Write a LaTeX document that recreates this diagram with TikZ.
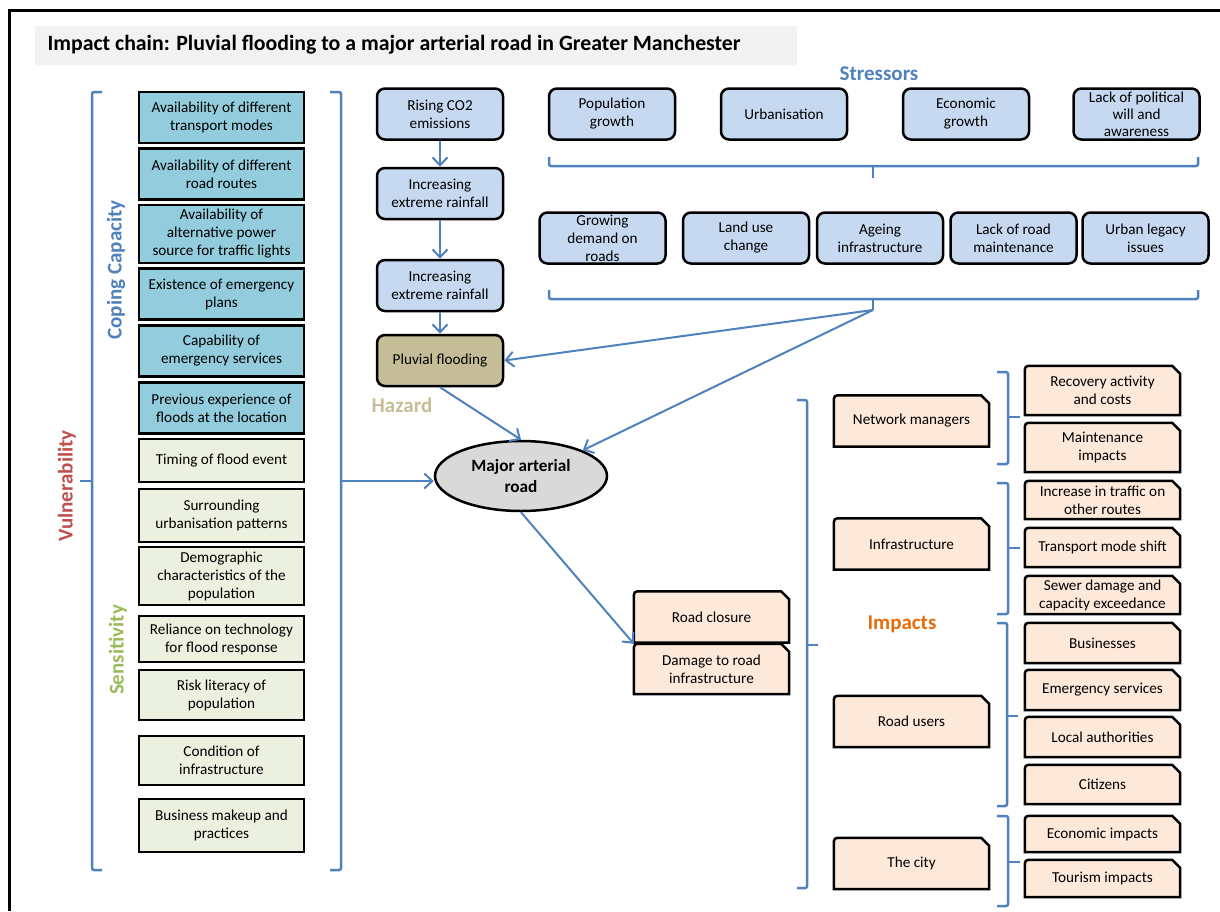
\documentclass[tikz,border=0pt]{standalone}
\usepackage{fontspec}
\setmainfont{Carlito}
\usetikzlibrary{arrows.meta,backgrounds,shapes.geometric}
\definecolor{copefill}{HTML}{93CDDD}
\definecolor{sensfill}{HTML}{EBF1DE}
\definecolor{strfill}{HTML}{C6D9F1}
\definecolor{hazfill}{HTML}{C4BD97}
\definecolor{roadfill}{HTML}{D9D9D9}
\definecolor{impfill}{HTML}{FDE9D9}
\definecolor{lineblue}{HTML}{4F81BD}
\definecolor{vulred}{HTML}{C0504D}
\definecolor{sensgreen}{HTML}{9BBB59}
\definecolor{imporange}{HTML}{E46C0A}
\definecolor{titlegray}{HTML}{F2F2F2}
\newcommand{\bodyfont}{\fontsize{15.2}{18}\selectfont}
\newcommand{\labfont}{\fontsize{21}{24}\selectfont\bfseries}
\newcommand{\cw}{165}
\newcommand{\iw}{155}

\begin{document}
\begin{tikzpicture}[x=1pt,y=-1pt,
    cope/.style={draw, rectangle, line width=2.5pt, fill=copefill, minimum width=\cw, minimum height=51, inner sep=1pt, align=center, font=\bodyfont},
    sens/.style={cope, fill=sensfill},
    stress/.style={draw, rounded corners=8pt, line width=2.5pt, fill=strfill, minimum width=126, minimum height=51, inner sep=0pt, align=center, font=\bodyfont},
    imp/.style={rectangle, minimum width=\iw, minimum height=51, inner sep=0pt, align=center, font=\bodyfont},
    impline/.style={draw, line width=2.5pt, fill=impfill},
    flow/.style={draw=lineblue, line width=2pt, -{Straight Barb[length=8pt,width=15pt]}},
    brace/.style={draw=lineblue, line width=2.5pt, rounded corners=2pt}]
    \useasboundingbox (0,0) rectangle (1220,911);

    % Frame and title
    \draw[line width=3pt] (9,911) -- (9,10) -- (1220,10);
    \fill[titlegray] (35,26) rectangle (797,65);
    \node[anchor=west, font=\fontsize{21.8}{25}\selectfont\bfseries] (title) at (44,45) {Impact chain: Pluvial flooding to a major arterial road in Greater Manchester};

    % Coping capacity
    \node[cope] (cope-1) at (221.5,117.5) {Availability of different\\transport modes};
    \node[cope] (cope-2) at (221.5,174) {Availability of different\\road routes};
    \node[cope, minimum height=58] (cope-3) at (221.5,234) {Availability of\\alternative power\\source for traffic lights};
    \node[cope] (cope-4) at (221.5,294) {Existence of emergency\\plans};
    \node[cope] (cope-5) at (221.5,351) {Capability of\\emergency services};
    \node[cope] (cope-6) at (221.5,408) {Previous experience of\\floods at the location};

    % Sensitivity
    \node[sens, minimum height=43] (sens-1) at (221.5,460.5) {Timing of flood event};
    \node[sens, minimum height=53] (sens-2) at (221.5,515.5) {Surrounding\\urbanisation patterns};
    \node[sens, minimum height=58] (sens-3) at (221.5,576) {Demographic\\characteristics of the\\population};
    \node[sens, minimum height=46] (sens-4) at (221.5,639) {Reliance on technology\\for flood response};
    \node[sens, minimum height=50] (sens-5) at (221.5,695) {Risk literacy of\\population};
    \node[sens, minimum height=49] (sens-6) at (221.5,760.5) {Condition of\\infrastructure};
    \node[sens, minimum height=53] (sens-7) at (221.5,825.5) {Business makeup and\\practices};

    \draw[brace] (102,92) -- (92,92) -- (92,870) -- (102,870);
    \draw[brace] (92,481) -- (80,481);
    \draw[brace] (330,92) -- (341,92) -- (341,870) -- (330,870);
    \coordinate (vul-out) at (341,481);

    \node[rotate=90, font=\labfont, text=vulred] (vul-lab) at (67,486) {Vulnerability};
    \node[rotate=90, font=\labfont, text=lineblue] (cope-lab) at (116,270) {Coping Capacity};
    \node[rotate=90, font=\labfont, text=sensgreen] (sens-lab) at (118,650) {Sensitivity};

    % Hazard chain
    \node[stress] (haz-1) at (440,114) {Rising CO2\\emissions};
    \node[stress] (haz-2) at (440,193.5) {Increasing\\extreme rainfall};
    \node[stress] (haz-3) at (440,285.5) {Increasing\\extreme rainfall};
    \node[stress, fill=hazfill] (flood) at (440,360.5) {Pluvial flooding};
    \node[font=\labfont, text=hazfill] (haz-lab) at (402,405) {Hazard};

    % Stressors
    \node[font=\labfont, text=lineblue] (str-lab) at (879,74) {Stressors};
    \node[stress] (str-1) at (612,114) {Population\\growth};
    \node[stress] (str-2) at (784,114) {Urbanisation};
    \node[stress] (str-3) at (966,114) {Economic\\growth};
    \node[stress, font=\fontsize{15.2}{17}\selectfont] (str-4) at (1136.5,114) {Lack of political\\will and\\awareness};
    \node[stress] (str-5) at (602.5,238) {Growing\\demand on\\roads};
    \node[stress] (str-6) at (746,238) {Land use\\change};
    \node[stress] (str-7) at (880,238) {Ageing\\infrastructure};
    \node[stress] (str-8) at (1013.5,238) {Lack of road\\maintenance};
    \node[stress] (str-9) at (1145.5,238) {Urban legacy\\issues};

    \draw[brace] (549,157) -- (549,166) -- (1198,166) -- (1198,157);
    \draw[brace] (873,166) -- (873,178);
    \draw[brace] (549,290) -- (549,299) -- (1198,299) -- (1198,290);
    \draw[brace] (873,299) -- (873,310);
    \coordinate (str-out) at (873,310);

    % Major arterial road
    \node[draw, ellipse, line width=2.5pt, fill=roadfill, minimum width=172, minimum height=70, inner sep=0pt, align=center, font=\fontsize{17.2}{20.5}\selectfont\bfseries] (road) at (521,476) {Major arterial\\road};

    % Impacts
    \node[imp] (close) at (711.5,617) {Road closure};
    \node[imp, minimum height=50] (damage) at (711.5,669) {Damage to road\\infrastructure};
    \node[imp] (netman) at (911.5,421) {Network managers};
    \node[imp] (infra) at (911.5,544) {Infrastructure};
    \node[imp] (users) at (911.5,721.5) {Road users};
    \node[imp] (city) at (911.5,863.5) {The city};
    \node[imp, minimum height=49] (recov) at (1102.5,390.5) {Recovery activity\\and costs};
    \node[imp, minimum height=49] (maint) at (1102.5,447.5) {Maintenance\\impacts};
    \node[imp, minimum height=38] (traffic) at (1102.5,500) {Increase in traffic on\\other routes};
    \node[imp, minimum height=39] (shift) at (1102.5,547.5) {Transport mode shift};
    \node[imp, minimum height=38] (sewer) at (1102.5,595) {Sewer damage and\\capacity exceedance};
    \node[imp, minimum height=40] (business) at (1102.5,643) {Businesses};
    \node[imp, minimum height=40] (emerg) at (1102.5,690) {Emergency services};
    \node[imp, minimum height=40] (local) at (1102.5,737) {Local authorities};
    \node[imp, minimum height=39] (citizen) at (1102.5,784.5) {Citizens};
    \node[imp, minimum height=36] (econ) at (1102.5,834) {Economic impacts};
    \node[imp, minimum height=37] (tourism) at (1102.5,878.5) {Tourism impacts};
    \node[font=\labfont, text=imporange] (imp-lab) at (902,624) {Impacts};

    \begin{scope}[on background layer]
        \foreach \n in {close,damage,netman,infra,users,city,recov,maint,traffic,shift,sewer,business,emerg,local,citizen,econ,tourism}
            \draw[impline] (\n.south west) -- ([yshift=-8pt]\n.north west) .. controls (\n.north west) .. ([xshift=8pt]\n.north west) -- ([xshift=-8pt]\n.north east) -- ([yshift=-8pt]\n.north east) -- (\n.south east) -- cycle;
    \end{scope}

    \draw[brace] (797,400) -- (807,400) -- (807,888) -- (797,888);
    \draw[brace] (807,645) -- (818,645);
    \draw[brace] (997,372) -- (1008,372) -- (1008,464) -- (997,464);
    \draw[brace] (1008,417) -- (1020,417);
    \draw[brace] (997,483) -- (1008,483) -- (1008,614) -- (997,614);
    \draw[brace] (1008,548) -- (1020,548);
    \draw[brace] (997,623) -- (1007,623) -- (1007,806) -- (997,806);
    \draw[brace] (1007,716) -- (1018,716);
    \draw[brace] (997,816) -- (1008,816) -- (1008,906) -- (997,906);
    \draw[brace] (1008,862) -- (1020,862);

    % Connectors
    \draw[flow] (haz-1) -- (haz-2);
    \draw[flow] (haz-2) -- (haz-3);
    \draw[flow] (haz-3) -- (flood);
    \draw[flow] (str-out) -- (flood.east);
    \draw[flow] (str-out) -- (road.north east);
    \draw[flow] (flood.south) -- (road.north);
    \draw[flow] (vul-out) -- (road.west |- vul-out);
    \draw[flow] (road.south) -- (damage.north west);

\end{tikzpicture}
\end{document}
